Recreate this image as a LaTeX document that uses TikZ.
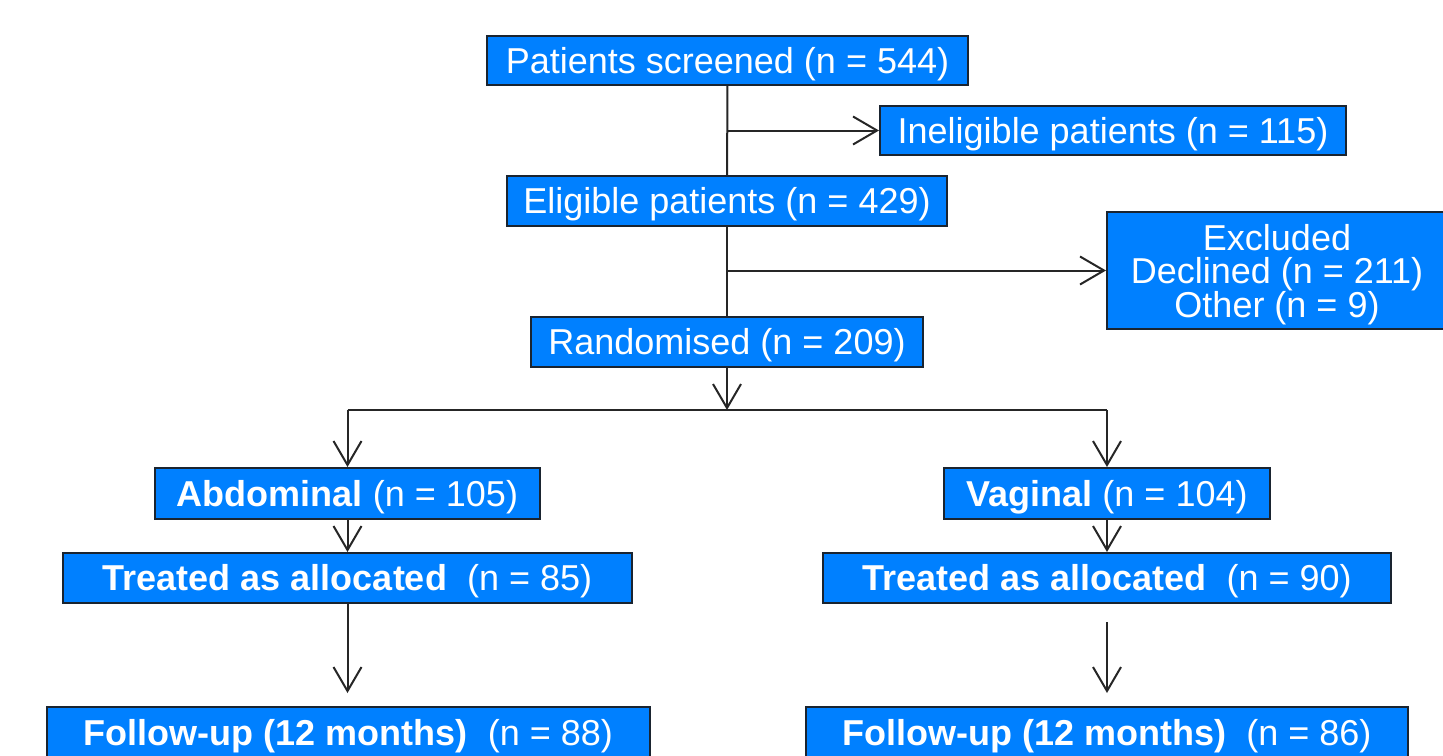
\documentclass[tikz,border=0pt]{standalone}
\usepackage{fontspec}
\setmainfont{Liberation Sans}
\usetikzlibrary{arrows.meta}
\definecolor{boxblue}{HTML}{0080FF}
\definecolor{boxline}{HTML}{1A2430}
\tikzset{
  box/.style={draw=boxline, line width=2pt, fill=boxblue, text=white, inner sep=0pt,
    font=\fontsize{36}{33}\selectfont, align=center},
  one/.style={text height=25pt, text depth=0pt},
  conn/.style={line width=2pt, draw=black!85},
  arr/.style={conn, -{Straight Barb[length=24pt, width=28pt, line width=2pt]}}
}
\begin{document}
\begin{tikzpicture}[x=1pt,y=-1pt]
\useasboundingbox (0,0) rectangle (1443,755);
\clip (0,0) rectangle (1443,755);
\fill[white] (0,0) rectangle (1443,755);
\node[box, one, minimum width=481pt, minimum height=49pt] (pat) at (727.5,60.5) {Patients screened (n = 544)};
\node[box, one, minimum width=466pt, minimum height=49pt] (inel) at (1113,130.5) {Ineligible patients (n = 115)};
\node[box, one, minimum width=440pt, minimum height=50pt] (elig) at (727,201) {Eligible patients (n = 429)};
\node[box, minimum width=340pt, minimum height=117pt] (excl) at (1277,270.5) {\rule{0pt}{34pt}Excluded\\Declined (n = 211)\\Other (n = 9)};
\node[box, one, minimum width=392pt, minimum height=50pt] (rand) at (727,342) {Randomised (n = 209)};
\node[box, one, minimum width=385pt, minimum height=51pt] (abd) at (347.5,493.5) {\textbf{Abdominal} (n = 105)};
\node[box, one, minimum width=326pt, minimum height=51pt] (vag) at (1107,493.5) {\textbf{Vaginal} (n = 104)};
\node[box, one, minimum width=569pt, minimum height=50pt] (trl) at (347.5,578) {\textbf{Treated as allocated}\ \ (n = 85)};
\node[box, one, minimum width=568pt, minimum height=50pt] (trr) at (1107,578) {\textbf{Treated as allocated}\ \ (n = 90)};
\node[box, one, minimum width=603pt, minimum height=52pt] (ful) at (348.5,733) {\textbf{Follow-up (12 months)}\ \ (n = 88)};
\node[box, one, minimum width=602pt, minimum height=52pt] (fur) at (1107,733) {\textbf{Follow-up (12 months)}\ \ (n = 86)};
\coordinate (j1) at (727,130.5);
\coordinate (j2) at (727,270.5);
\coordinate (split) at (727,410);
\coordinate (sl) at (347.5,410);
\coordinate (sr) at (1107,410);
\coordinate (ftl) at (347.5,693);
\coordinate (fsr) at (1107,622);
\coordinate (ftr) at (1107,693);
\draw[conn] (pat) -- (elig);
\draw[arr] (j1) -- (inel);
\draw[conn] (elig) -- (rand);
\draw[arr] (j2) -- (excl);
\draw[arr] (rand) -- (split);
\draw[conn] (sl) -- (sr);
\draw[arr] (sl) -- (abd);
\draw[arr] (sr) -- (vag);
\draw[arr] (abd) -- (trl);
\draw[arr] (vag) -- (trr);
\draw[arr] (trl) -- (ftl);
\draw[arr] (fsr) -- (ftr);
\end{tikzpicture}
\end{document}
